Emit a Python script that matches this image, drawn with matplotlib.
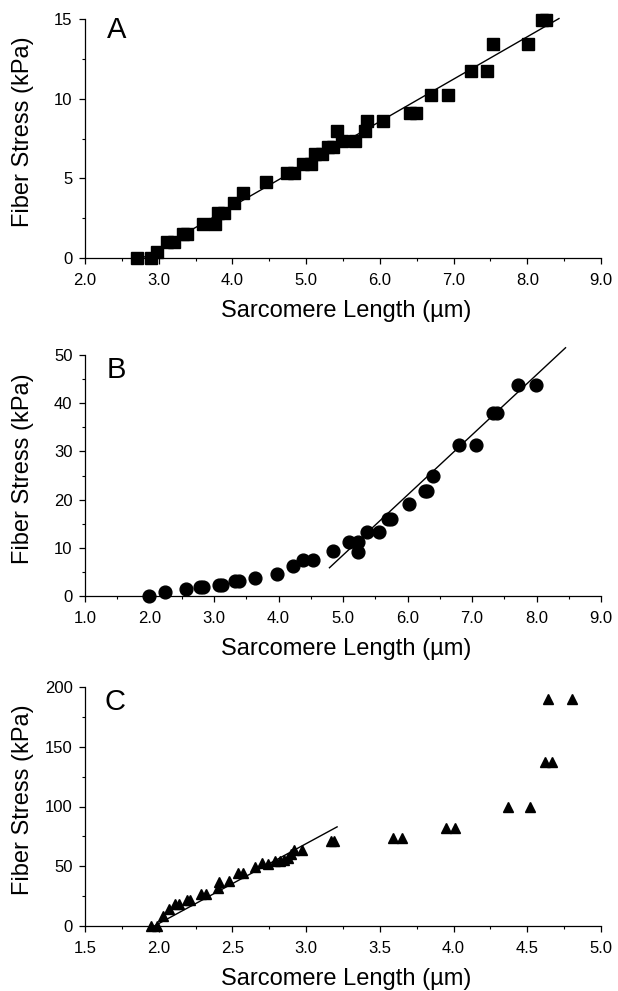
import matplotlib
matplotlib.use("Agg")
import matplotlib.pyplot as plt
import numpy as np
from matplotlib.ticker import MultipleLocator, FormatStrFormatter

plt.rcParams['font.family'] = ['Liberation Sans', 'DejaVu Sans']

# Panel A data (squares)
a_x = [2.71, 2.90, 2.97, 3.11, 3.21, 3.33, 3.39, 3.60, 3.77, 3.81, 3.88, 4.02, 4.14,
       4.46, 4.74, 4.83, 4.96, 5.06, 5.12, 5.21, 5.30, 5.36, 5.42, 5.48, 5.66, 5.80,
       5.83, 6.04, 6.41, 6.49, 6.69, 6.92, 7.24, 7.45, 7.54, 8.01, 8.20, 8.26]
a_y = [0.0, 0.0, 0.4, 1.0, 1.0, 1.5, 1.5, 2.15, 2.15, 2.8, 2.8, 3.45, 4.09,
       4.74, 5.33, 5.33, 5.93, 5.93, 6.5, 6.5, 6.97, 6.97, 7.96, 7.35, 7.35, 7.96,
       8.58, 8.58, 9.08, 9.08, 10.23, 10.23, 11.76, 11.76, 13.45, 13.45, 14.93, 14.93]
a_fit_x = [2.78, 8.43]
a_fit_slope = 2.66

# Panel B data (circles)
b_x = [1.99, 2.24, 2.56, 2.78, 2.83, 3.07, 3.12, 3.33, 3.38, 3.64, 3.97, 4.23, 4.38,
       4.54, 4.85, 5.10, 5.24, 5.24, 5.37, 5.56, 5.70, 5.74, 6.03, 6.27, 6.31, 6.40,
       6.80, 7.06, 7.33, 7.39, 7.72, 7.99]
b_y = [0.0, 0.83, 1.5, 1.87, 1.87, 2.2, 2.2, 3.05, 3.05, 3.8, 4.6, 6.2, 7.5,
       7.5, 9.3, 11.1, 11.1, 9.1, 13.3, 13.3, 15.9, 15.9, 19.0, 21.8, 21.8, 25.0,
       31.4, 31.4, 38.0, 38.0, 43.7, 43.7]
b_fit_x = [4.79, 8.45]
b_fit_slope = 12.47
b_fit_x0 = 4.32

# Panel C data (triangles)
c_x = [1.95, 1.99, 2.03, 2.07, 2.11, 2.14, 2.19, 2.21, 2.29, 2.32, 2.40, 2.41, 2.48,
       2.54, 2.57, 2.65, 2.70, 2.74, 2.79, 2.82, 2.85, 2.88, 2.90, 2.92, 2.97,
       3.17, 3.19, 3.59, 3.65, 3.95, 4.01, 4.37, 4.52, 4.62, 4.67, 4.64, 4.80]
c_y = [0, 0, 8, 14, 18, 18, 22, 22, 27, 27, 32, 37, 38,
       44, 44, 49, 53, 52, 54, 54, 55, 57, 60, 64, 64,
       71, 71, 74, 74, 82, 82, 100, 100, 137, 137, 190, 190]
c_fit_x = [1.97, 3.21]
c_fit_slope = 66.9

fig = plt.figure(figsize=(6.18, 9.91), dpi=100)

W = 618.0
H = 991.0
def ax_rect(left, right, top, bottom):
    return [left / W, 1 - bottom / H, (right - left) / W, (bottom - top) / H]

axA = fig.add_axes(ax_rect(85, 601, 19, 258))
axB = fig.add_axes(ax_rect(85, 601, 355, 596))
axC = fig.add_axes(ax_rect(85, 601, 687, 926))

def style(ax, xlim, ylim, xmaj, xmin, ymaj, ymin, xfmt, hpx):
    ax.set_xlim(*xlim)
    ax.set_ylim(*ylim)
    for s in ['top', 'right']:
        ax.spines[s].set_visible(False)
    for s in ['left', 'bottom']:
        ax.spines[s].set_linewidth(0.9)
    ax.xaxis.set_major_locator(MultipleLocator(xmaj))
    ax.xaxis.set_minor_locator(MultipleLocator(xmin))
    ax.yaxis.set_major_locator(MultipleLocator(ymaj))
    ax.yaxis.set_minor_locator(MultipleLocator(ymin))
    ax.xaxis.set_major_formatter(FormatStrFormatter(xfmt))
    ax.tick_params(which='major', direction='out', length=4, width=0.9, labelsize=12)
    ax.tick_params(axis='x', which='major', pad=6.5)
    ax.tick_params(axis='y', which='major', pad=5)
    ax.tick_params(which='minor', direction='out', length=2.5, width=0.8)
    ax.set_xlabel('Sarcomere Length (µm)', fontsize=17)
    ax.set_ylabel('Fiber Stress (kPa)', fontsize=17)
    ax.xaxis.set_label_coords(0.507, -42.0 / hpx)
    ax.xaxis.label.set_va('top')
    ax.yaxis.set_label_coords(-0.099, 0.53)

style(axA, (2.0, 9.0), (0, 15), 1.0, 0.5, 5, 2.5, '%.1f', 239.0)
style(axB, (1.0, 9.0), (0, 50), 1.0, 0.5, 10, 5, '%.1f', 241.0)
style(axC, (1.5, 5.0), (0, 200), 0.5, 0.25, 50, 25, '%.1f', 239.0)

# Panel A
axA.plot(a_x, a_y, 's', color='black', markersize=8.3, clip_on=False, zorder=3)
fx = np.array(a_fit_x)
axA.plot(fx, a_fit_slope * (fx - a_fit_x[0]), '-', color='black', linewidth=1.0, clip_on=False)
axA.text(0.042, 0.953, 'A', transform=axA.transAxes, fontsize=21, va='center', ha='left')

# Panel B
axB.plot(b_x, b_y, 'o', color='black', markersize=9.2, clip_on=False, zorder=3)
fx = np.array(b_fit_x)
axB.plot(fx, b_fit_slope * (fx - b_fit_x0), '-', color='black', linewidth=1.0, clip_on=False)
axB.text(0.042, 0.937, 'B', transform=axB.transAxes, fontsize=21, va='center', ha='left')

# Panel C
axC.plot(c_x, c_y, '^', color='black', markersize=7.5, clip_on=False, zorder=3)
fx = np.array(c_fit_x)
axC.plot(fx, c_fit_slope * (fx - c_fit_x[0]), '-', color='black', linewidth=1.0, clip_on=False)
axC.text(0.037, 0.938, 'C', transform=axC.transAxes, fontsize=21, va='center', ha='left')

fig.savefig('out.png', dpi=100)
